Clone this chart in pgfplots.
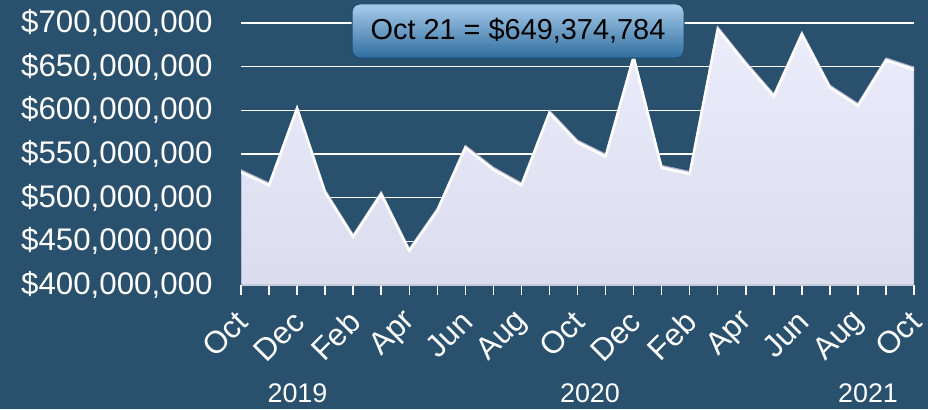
\documentclass[border=0pt]{standalone}
\usepackage{pgfplots}
\pgfplotsset{compat=1.18}
\usepackage{fontspec}
\setmainfont{Liberation Sans}
\definecolor{bg}{HTML}{29506C}
\definecolor{areatop}{HTML}{EBEDFB}
\definecolor{areabot}{HTML}{DBDDEF}
\definecolor{areaedge}{HTML}{A9ABC4}
\definecolor{boxtop}{HTML}{A8CBEB}
\definecolor{boxbot}{HTML}{2F6E9F}
\definecolor{boxedge}{HTML}{1F4A6D}
\begin{document}
\begin{tikzpicture}[x=1bp,y=1bp]
\fill[bg] (0,0) rectangle (928,409);
\useasboundingbox (0,0) rectangle (928,409);
\begin{axis}[
  at={(241bp,124bp)}, anchor=south west,
  scale only axis, width=673bp, height=262bp,
  xmin=0, xmax=24, ymin=400, ymax=700,
  xtick={0,2,...,24},
  minor xtick={1,3,...,23},
  xticklabels={Oct,Dec,Feb,Apr,Jun,Aug,Oct,Dec,Feb,Apr,Jun,Aug,Oct},
  ytick={400,450,500,550,600,650,700},
  yticklabels={{\$400,000,000},{\$450,000,000},{\$500,000,000},{\$550,000,000},{\$600,000,000},{\$650,000,000},{\$700,000,000}},
  ymajorgrids,
  grid style={white, line width=1.5bp},
  axis x line*=bottom,
  axis y line*=left,
  x axis line style={white, line width=1.5bp, -},
  y axis line style={draw=none},
  xtick style={white, line width=1.5bp},
  minor tick style={white, line width=1.5bp},
  ytick style={draw=none},
  tick align=outside,
  major tick length=10bp,
  minor tick length=10bp,
  tick label style={text=white, font=\fontsize{31.4}{37}\selectfont},
  yticklabel style={xshift=-15bp},
  xticklabel style={xshift=4bp, yshift=-19bp, rotate=45, anchor=east},
  clip=true,
]
\addplot[top color=areatop, bottom color=areabot, draw=areaedge, line width=1bp] coordinates {
(0,532) (1,517) (2,605) (3,509) (4,458) (5,507) (6,442) (7,488) (8,560) (9,535)
(10,517) (11,600) (12,566) (13,550) (14,664) (15,537) (16,530) (17,696) (18,656)
(19,619) (20,690) (21,629) (22,608) (23,660) (24,649.374784)
} \closedcycle;
\addplot[white, line width=2.5bp, transform canvas={yshift=-2.5bp}] coordinates {
(0,532) (1,517) (2,605) (3,509) (4,458) (5,507) (6,442) (7,488) (8,560) (9,535)
(10,517) (11,600) (12,566) (13,550) (14,664) (15,537) (16,530) (17,696) (18,656)
(19,619) (20,690) (21,629) (22,608) (23,660) (24,649.374784)
};
\end{axis}
\node[rounded corners=8bp, top color=boxtop, bottom color=boxbot, draw=boxedge,
  line width=1bp, minimum width=332bp, minimum height=54bp,
  font=\fontsize{29}{35}\selectfont, text=black] at (518,378) {Oct 21 = \$649,374,784};
\node[text=white, font=\fontsize{27}{32}\selectfont] at (297.5,16) {2019};
\node[text=white, font=\fontsize{27}{32}\selectfont] at (590,16) {2020};
\node[text=white, font=\fontsize{27}{32}\selectfont] at (868,16) {2021};
\end{tikzpicture}
\end{document}
